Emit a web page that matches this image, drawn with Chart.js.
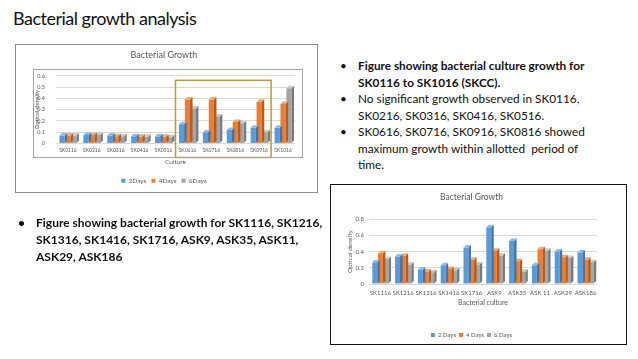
<!DOCTYPE html>
<html>
<head>
<meta charset="utf-8">
<script src="https://cdn.jsdelivr.net/npm/chart.js@4.4.1/dist/chart.umd.min.js"></script>
<style>
  html, body { margin: 0; padding: 0; background: #fff; }
  body { width: 638px; height: 359px; position: relative; overflow: hidden; font-family: Lato, "Open Sans", sans-serif; color: #111; }
  .abs { position: absolute; }
  #slide-title { left: 13px; top: 7px; font-size: 18px; letter-spacing: -0.5px; white-space: nowrap; }
  .bullets { margin: 0; padding: 0; list-style: none; white-space: nowrap; }
  .bullets li { position: relative; padding-left: 18px; }
  .bullets li::before { content: "•"; position: absolute; left: 0; }
  #notes-right { left: 340px; top: 58px; font-size: 11.8px; line-height: 16.5px; }
  #notes-left { left: 18px; top: 214px; font-size: 12px; line-height: 17px; font-weight: bold; }
  .frame { pointer-events: none; box-sizing: border-box; }
</style>
</head>
<body>
<div id="slide-title" class="abs">Bacterial growth analysis</div>

<div class="abs" style="left:15px;top:44px;width:302px;height:150px;">
  <canvas id="top-chart" width="302" height="150"></canvas>
</div>
<div class="abs frame" style="left:33px;top:69px;width:270px;height:89px;border:1px solid #a6a6a6;"></div>
<div class="abs frame" style="left:15px;top:44px;width:303px;height:149px;border:1.5px solid #8c8c8c;"></div>

<ul id="notes-right" class="abs bullets">
  <li><b>Figure showing bacterial culture growth for<br>SK0116 to SK1016 (SKCC).</b></li>
  <li>No significant growth observed in SK0116,<br>SK0216, SK0316, SK0416, SK0516.</li>
  <li>SK0616, SK0716, SK0916, SK0816 showed<br>maximum growth within allotted&nbsp; period of<br>time.</li>
</ul>

<ul id="notes-left" class="abs bullets">
  <li>Figure showing bacterial growth for SK1116, SK1216,<br>SK1316, SK1416, SK1716, ASK9, ASK35, ASK11,<br>ASK29, ASK186</li>
</ul>

<div class="abs" style="left:330px;top:184px;width:296px;height:164px;">
  <canvas id="bottom-chart" width="296" height="164"></canvas>
</div>
<div class="abs frame" style="left:330px;top:184px;width:297px;height:161px;border:1.3px solid #111;"></div>

<script>
  const topCultures = ["SK0116", "SK0216", "SK0316", "SK0416", "SK0516", "SK0616", "SK0716", "SK0816", "SK0916", "SK1016"];
  const topDay2 = [0.07, 0.075, 0.07, 0.065, 0.065, 0.17, 0.10, 0.12, 0.14, 0.14];
  const topDay4 = [0.07, 0.075, 0.065, 0.06, 0.06, 0.39, 0.39, 0.19, 0.37, 0.35];
  const topDay6 = [0.07, 0.075, 0.065, 0.06, 0.055, 0.31, 0.24, 0.18, 0.10, 0.49];
  const topLegend = ["2Days", "4Days", "6Days"];

  const bottomCultures = ["SK1116", "SK1216", "SK1316", "SK1416", "SK1716", "ASK9", "ASK35", "ASK 11", "ASK29", "ASK186"];
  const bottomDay2 = [0.27, 0.34, 0.18, 0.23, 0.45, 0.70, 0.53, 0.23, 0.40, 0.39];
  const bottomDay4 = [0.38, 0.35, 0.155, 0.185, 0.30, 0.41, 0.28, 0.43, 0.33, 0.30];
  const bottomDay6 = [0.31, 0.24, 0.145, 0.17, 0.24, 0.35, 0.15, 0.41, 0.32, 0.27];
  const bottomLegend = ["2 Days", "4 Days", "6 Days"];

  // boxed group in the first chart: SK0616..SK0916
  const highlightFrom = 5;
  const highlightTo = 8;

  const blue = "#5b9bd5";
  const orange = "#ed7d31";
  const gray = "#a5a5a5";
  const sideColors = ["#3f75a8", "#b85a1c", "#7b7b7b"];
  const topColors = ["#8dbbe6", "#f4a772", "#c9c9c9"];
  const textColor = "#595959";
  const gridColor = "#d9d9d9";

  Chart.defaults.font.family = "Lato, 'Open Sans', sans-serif";

  // fake 3D: a small side face and top face on each bar
  const depthPlugin = {
    id: "depth",
    afterDatasetDraw(chart, args) {
      const ctx = chart.ctx;
      const d = 2.5;
      args.meta.data.forEach((bar) => {
        const r = bar.x + bar.width / 2;
        const l = bar.x - bar.width / 2;
        ctx.save();
        ctx.fillStyle = sideColors[args.index];
        ctx.beginPath();
        ctx.moveTo(r, bar.y);
        ctx.lineTo(r + d, bar.y - d);
        ctx.lineTo(r + d, bar.base - d);
        ctx.lineTo(r, bar.base);
        ctx.closePath();
        ctx.fill();
        ctx.fillStyle = topColors[args.index];
        ctx.beginPath();
        ctx.moveTo(l, bar.y);
        ctx.lineTo(l + d, bar.y - d);
        ctx.lineTo(r + d, bar.y - d);
        ctx.lineTo(r, bar.y);
        ctx.closePath();
        ctx.fill();
        ctx.restore();
      });
    }
  };

  const highlightPlugin = {
    id: "highlight",
    afterDraw(chart) {
      const x = chart.scales.x;
      const y = chart.scales.y;
      const step = x.getPixelForValue(1) - x.getPixelForValue(0);
      const left = x.getPixelForValue(highlightFrom) - step / 2;
      const right = x.getPixelForValue(highlightTo) + step / 2;
      const top = y.getPixelForValue(0.56);
      const bottom = chart.chartArea.bottom + 14;
      const ctx = chart.ctx;
      ctx.save();
      ctx.strokeStyle = "#c19a2e";
      ctx.lineWidth = 1.5;
      ctx.strokeRect(left, top, right - left, bottom - top);
      ctx.restore();
    }
  };

  function barChart(canvasId, labels, series, names, opts) {
    const colors = [blue, orange, gray];
    return new Chart(document.getElementById(canvasId), {
      type: "bar",
      data: {
        labels: labels,
        datasets: series.map((values, i) => ({
          label: names[i],
          data: values,
          backgroundColor: colors[i],
          borderWidth: 0
        }))
      },
      options: {
        responsive: false,
        animation: false,
        layout: { padding: opts.padding },
        datasets: { bar: { categoryPercentage: 0.74, barPercentage: 0.88 } },
        plugins: {
          title: {
            display: true,
            text: "Bacterial Growth",
            color: textColor,
            font: { size: opts.titleSize, weight: "normal" },
            padding: opts.titlePadding
          },
          legend: {
            position: "bottom",
            labels: {
              boxWidth: 4,
              boxHeight: 4,
              color: textColor,
              font: { size: opts.legendSize },
              padding: opts.legendPadding
            }
          },
          tooltip: { enabled: false }
        },
        scales: {
          x: {
            grid: { display: false, drawTicks: false },
            border: { display: false },
            ticks: { color: textColor, font: { size: opts.xTickSize }, maxRotation: 0, autoSkip: false, padding: opts.xTickPad },
            title: { display: true, text: opts.xTitle, color: textColor, font: { size: opts.smallSize + 1 }, padding: opts.xTitlePadding },
            afterFit: (scale) => { scale.height = opts.xHeight; }
          },
          y: {
            min: 0,
            max: opts.yMax,
            ticks: { stepSize: opts.yStep, color: textColor, font: { size: opts.smallSize }, padding: opts.yTickPad },
            grid: { color: gridColor, drawTicks: false },
            border: { display: false },
            title: { display: true, text: "Optical density", color: textColor, font: { size: opts.smallSize + 0.5 }, padding: 0 },
            afterFit: (scale) => { scale.width = opts.yWidth; }
          }
        }
      },
      plugins: opts.plugins
    });
  }

  barChart("top-chart", topCultures, [topDay2, topDay4, topDay6], topLegend, {
    padding: { left: 18, right: 22, top: 0, bottom: 0 },
    titleSize: 9,
    titlePadding: { top: 6, bottom: 15 },
    smallSize: 5.5,
    xTickSize: 5,
    xTickPad: 4,
    legendSize: 6.5,
    legendPadding: 5,
    xTitle: "Culture",
    xTitlePadding: { top: 1, bottom: 6.5 },
    xHeight: 29,
    yMax: 0.6,
    yStep: 0.1,
    yTickPad: 11,
    yWidth: 23,
    plugins: [depthPlugin, highlightPlugin]
  });

  barChart("bottom-chart", bottomCultures, [bottomDay2, bottomDay4, bottomDay6], bottomLegend, {
    padding: { left: 16, right: 29, top: 0, bottom: 0 },
    titleSize: 8.5,
    titlePadding: { top: 8, bottom: 17 },
    smallSize: 6,
    xTickSize: 6,
    xTickPad: 5,
    legendSize: 6,
    legendPadding: 3,
    xTitle: "Bacterial culture",
    xTitlePadding: { top: 1, bottom: 22 },
    xHeight: 45,
    yMax: 0.8,
    yStep: 0.2,
    yTickPad: 5,
    yWidth: 23,
    plugins: [depthPlugin]
  });
</script>
</body>
</html>
